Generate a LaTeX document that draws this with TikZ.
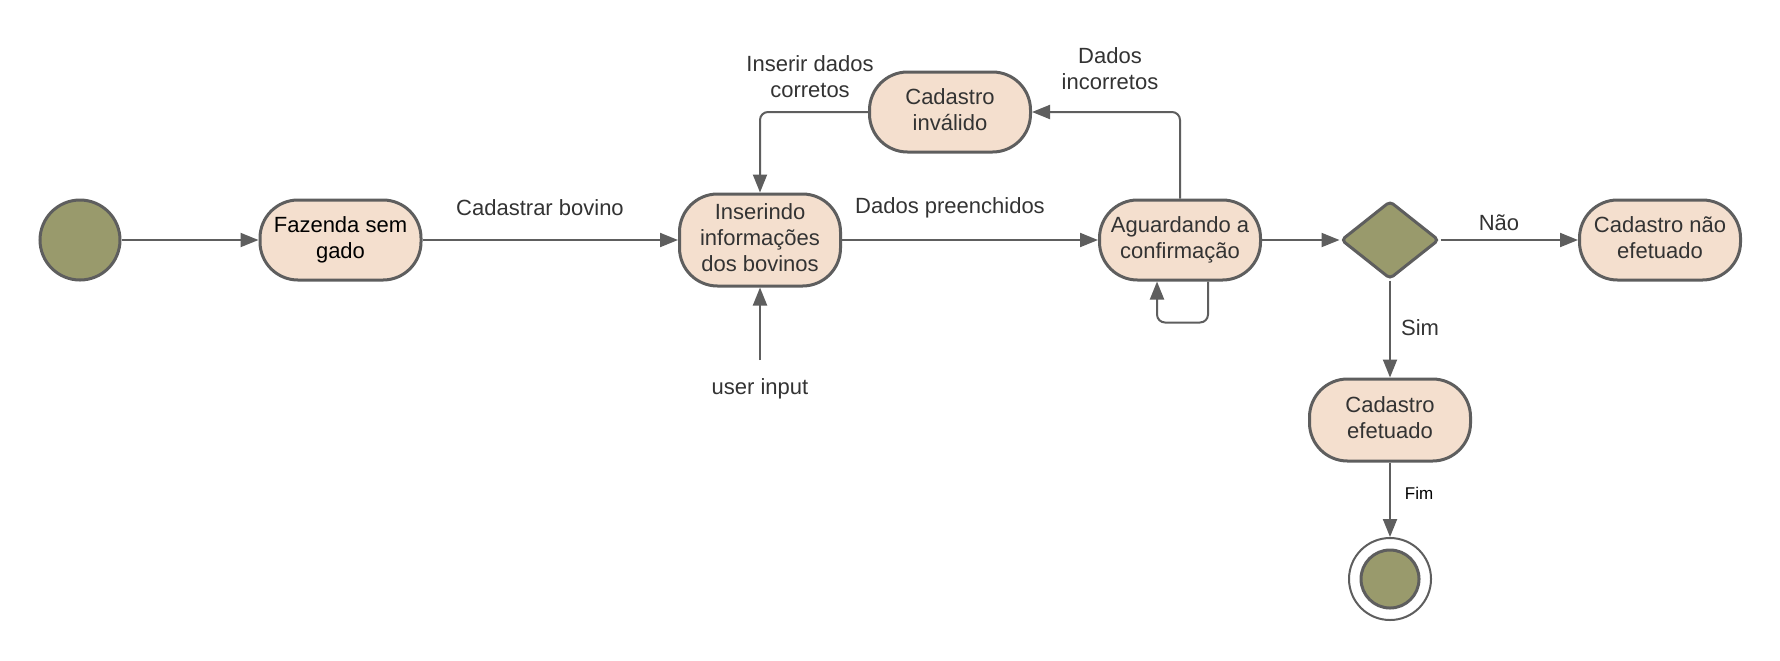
\documentclass[tikz,border=0pt]{standalone}
\usepackage{fontspec}
\setmainfont{Liberation Sans}
\usetikzlibrary{arrows.meta,shapes.geometric,calc}
\definecolor{peach}{HTML}{F4DFCE}
\definecolor{olivefill}{HTML}{999A6C}
\definecolor{edgegray}{HTML}{5E5E5E}
\definecolor{txt}{HTML}{333333}
\begin{document}
\begin{tikzpicture}[x=0.5pt,y=-0.5pt,
  state/.style={draw=edgegray, line width=1.5pt, fill=peach, rectangle, rounded corners=19pt,
    minimum width=80.5pt, minimum height=40pt, align=center, text=txt, text depth=2.6pt,
    font=\fontsize{11pt}{13pt}\selectfont, inner sep=0pt},
  conn/.style={draw=edgegray, line width=1pt, -{Triangle[length=9pt,width=7pt]}},
  lbl/.style={text=txt, font=\fontsize{11pt}{13pt}\selectfont, align=center, inner sep=0pt},
  olivedot/.style={circle, draw=edgegray, line width=1.5pt, fill=olivefill, inner sep=0pt},
]
\useasboundingbox[fill=white] (0,0) rectangle (1780,660);

% nodes
\node[olivedot, minimum size=40pt] (start) at (80,240) {};
\node[state, text=black] (faz) at (340.5,240) {Fazenda sem\\gado};
\node[state, minimum height=46pt] (ins) at (760,240) {Inserindo\\informações\\dos bovinos};
\node[state] (agu) at (1180,240) {Aguardando a\\confirmação};
\node[state] (inv) at (950,112) {Cadastro\\inválido};
\node[diamond, draw=edgegray, line width=1.5pt, fill=olivefill, minimum width=49pt,
      minimum height=39pt, inner sep=0pt, rounded corners=2pt] (dec) at (1390,240) {};
\node[state] (nao) at (1660,240) {Cadastro não\\efetuado};
\node[state, minimum height=41pt] (efe) at (1390,420) {Cadastro\\efetuado};
\node[circle, draw=edgegray, line width=1pt, fill=white, minimum size=41pt, inner sep=0pt] (endo) at (1390,579) {};
\node[olivedot, minimum size=29pt] (endi) at (1390,579) {};

% labels
\node[lbl] (l1) at (540,208) {Cadastrar bovino};
\node[lbl] (l2) at (950,208) {Dados preenchidos};
\node[lbl] (l3) at (810,77) {Inserir dados\\corretos};
\node[lbl] (l4) at (1110,69) {Dados\\incorretos};
\node[lbl] (l5) at (1499,223) {Não};
\node[lbl] (l6) at (1420,328) {Sim};
\node[inner sep=0pt, text=black, font=\fontsize{8.5pt}{10pt}\selectfont] (l7) at (1419,493) {Fim};
\node[lbl] (user) at (760,389) {user input};
\coordinate (uin) at (760,360);

% connectors
\draw[conn] (start) -- (faz);
\draw[conn] (faz) -- (ins);
\draw[conn] (ins) -- (agu);
\draw[conn] (agu) -- (dec);
\draw[conn] (dec) -- (nao);
\draw[conn] (dec) -- (efe);
\draw[conn] (efe) -- (endo);
\draw[conn] (uin) -- (ins);
\draw[conn, rounded corners=4pt] (agu.north) |- (inv.east);
\draw[conn, rounded corners=4pt] (inv.west) -| (ins.north);
\draw[conn, rounded corners=4pt] ($(agu.south)+(28,0)$) -- ++(0,41) -| ($(agu.south)+(-23,0)$);
\end{tikzpicture}
\end{document}
